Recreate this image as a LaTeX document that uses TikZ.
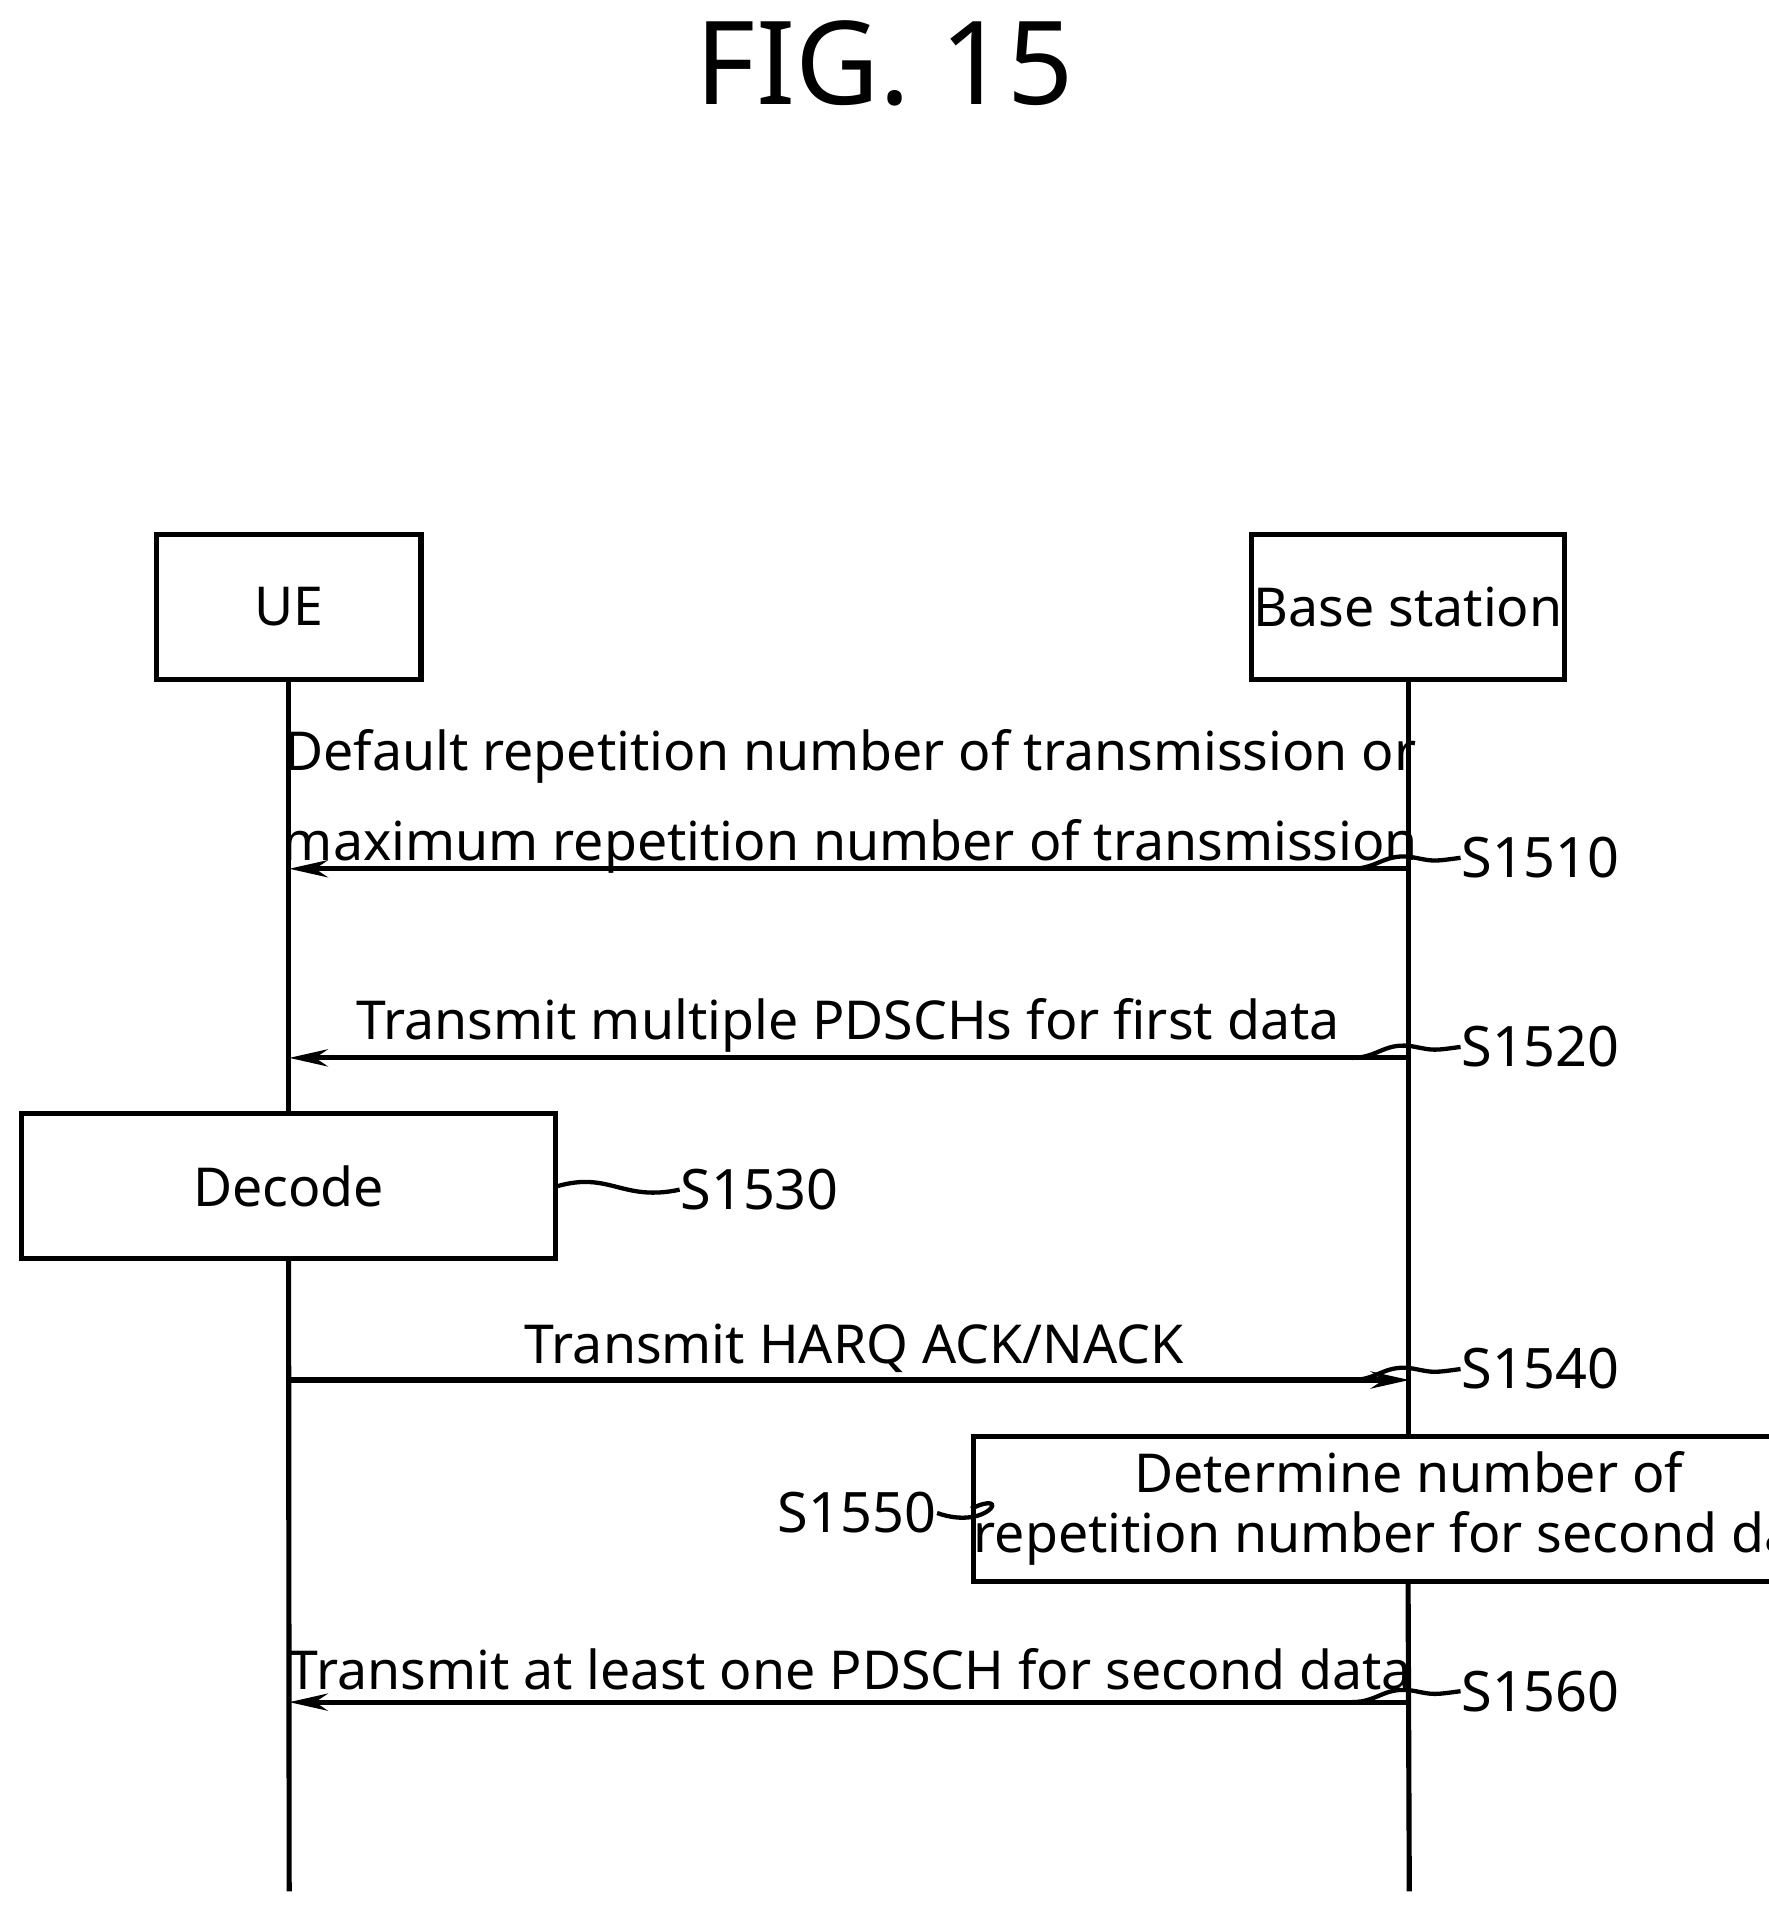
\documentclass[tikz,border=0pt]{standalone}
\usepackage{fontspec}
\setmainfont{Noto Sans}
\usetikzlibrary{arrows.meta}

\tikzset{
  entity/.style={draw, line width=1.2pt, minimum width=#1, minimum height=1.19cm, inner sep=0pt},
  msg/.style={draw, line width=1.2pt, -{Stealth[length=9pt,width=4pt]}},
  lifeline/.style={draw, line width=1.2pt},
  txt/.style={font=\fontsize{12.5}{15}\selectfont, inner sep=0pt},
  steplabel/.style={font=\fontsize{13}{15}\selectfont, inner sep=0pt},
  squiggle/.style={draw, line width=1pt}
}

\begin{document}
\begin{tikzpicture}[x=0.01cm, y=-0.01cm]
  \useasboundingbox (0,0) rectangle (1449,1567);
  \node (title) [font=\fontsize{27}{30}\selectfont] at (725,52) {FIG. 15};

  % entities
  \node (ue) [entity=2.17cm] at (236.5,497.5) {\fontsize{12.5}{15}\selectfont UE};
  \node (bs) [entity=2.56cm] at (1154,497.5) {\fontsize{12.5}{15}\selectfont Base station};
  \coordinate (ueend) at (237,1550);
  \coordinate (bsend) at (1155,1550);

  % S1510
  \coordinate (a1) at (1155,712);
  \coordinate (b1) at (237,712);
  \draw [msg] (a1) -- (b1);
  \node [txt, align=center] at (697,657) {Default repetition number of transmission or\\[6pt]maximum repetition number of transmission};
  \node (s1510) [steplabel, anchor=west] at (1197,703) {S1510};
  \draw [squiggle] (1108,712) .. controls (1130,712) and (1135,698) .. (1160,703) .. controls (1175,706) .. (s1510.west);

  % S1520
  \coordinate (a2) at (1155,867);
  \coordinate (b2) at (237,867);
  \draw [msg] (a2) -- (b2);
  \node [txt] at (695,840) {Transmit multiple PDSCHs for first data};
  \node (s1520) [steplabel, anchor=west] at (1197,858) {S1520};
  \draw [squiggle] (1108,867) .. controls (1130,867) and (1135,853) .. (1160,858) .. controls (1175,861) .. (s1520.west);

  % S1530
  \node (decode) [entity=4.37cm, fill=white] at (236.5,972) {\fontsize{12.5}{15}\selectfont Decode};
  \node (s1530) [steplabel, anchor=west] at (557,975) {S1530};
  \draw [squiggle] (decode.east) .. controls (500,960) and (510,985) .. (s1530.west);

  % S1540
  \coordinate (a4) at (237,1131);
  \coordinate (b4) at (1155,1131);
  \draw [msg] (a4) -- (b4);
  \node [txt] at (700,1105) {Transmit HARQ ACK/NACK};
  \node (s1540) [steplabel, anchor=west] at (1197,1122) {S1540};
  \draw [squiggle] (1108,1131) .. controls (1130,1131) and (1135,1117) .. (1160,1122) .. controls (1175,1125) .. (s1540.west);

  % S1550
  \node (det) [entity=5.55cm, fill=white, align=center] at (1154.5,1236.5) {\fontsize{12.5}{15}\selectfont Determine number of\\[2pt]\fontsize{12.5}{15}\selectfont repetition number for second data};
  \node (s1550) [steplabel, anchor=east] at (768,1240) {S1550};
  \draw [squiggle] (s1550.east) .. controls (810,1255) and (830,1220) .. (det.west);

  % S1560
  \coordinate (a6) at (1155,1395);
  \coordinate (b6) at (237,1395);
  \draw [msg] (a6) -- (b6);
  \node [txt] at (697,1368) {Transmit at least one PDSCH for second data};
  \node (s1560) [steplabel, anchor=west] at (1197,1386) {S1560};
  \draw [squiggle] (1108,1395) .. controls (1130,1395) and (1135,1381) .. (1160,1386) .. controls (1175,1389) .. (s1560.west);

  % lifelines
  \draw [lifeline] (ue.south) -- (decode.north);
  \draw [lifeline] (decode.south) -- (ueend);
  \draw [lifeline] (bs.south) -- (det.north -| bs.south);
  \draw [lifeline] (det.south -| bs.south) -- (bsend);
\end{tikzpicture}
\end{document}
